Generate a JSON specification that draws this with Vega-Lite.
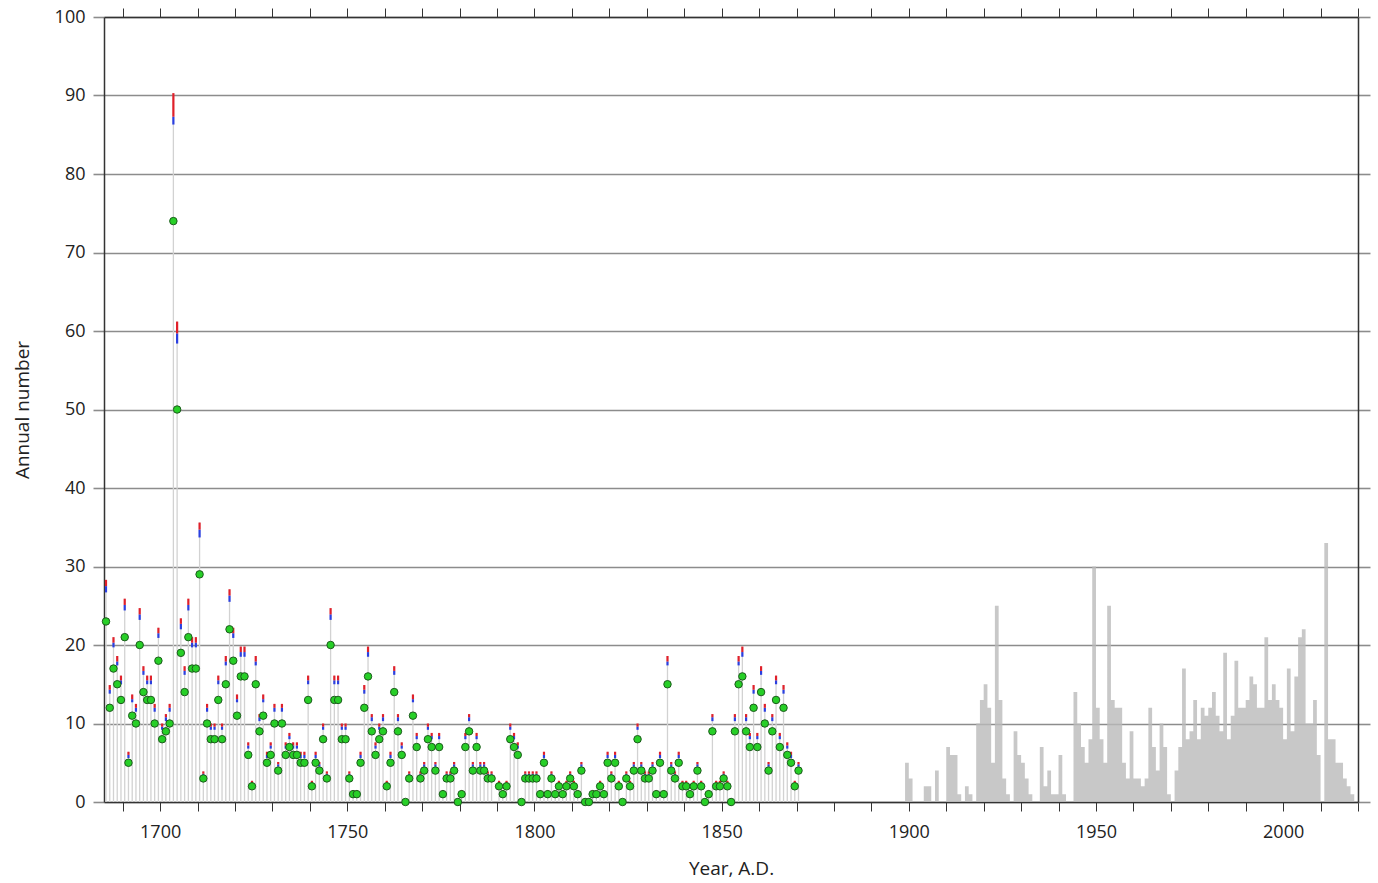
{
  "$schema": "https://vega.github.io/schema/vega-lite/v6.json",
  "width": 1254,
  "height": 785,
  "autosize": {"type": "none"},
  "padding": {"left": 104, "top": 17, "right": 20, "bottom": 81},
  "background": "white",
  "config": {
    "view": {"stroke": null},
    "font": "Open Sans",
    "axis": {
      "labelFont": "Open Sans", "labelFontSize": 18, "labelColor": "#222222",
      "titleFont": "Open Sans", "titleFontSize": 19, "titleFontWeight": "normal", "titleColor": "#222222",
      "domainColor": "#333333", "domainWidth": 1.5, "tickColor": "#333333", "tickWidth": 1
    }
  },
  "datasets": {
    "early": [
      {"year":1685,"v":23},{"year":1686,"v":12},{"year":1687,"v":17},{"year":1688,"v":15},{"year":1689,"v":13},
      {"year":1690,"v":21},{"year":1691,"v":5},{"year":1692,"v":11},{"year":1693,"v":10},{"year":1694,"v":20},
      {"year":1695,"v":14},{"year":1696,"v":13},{"year":1697,"v":13},{"year":1698,"v":10},{"year":1699,"v":18},
      {"year":1700,"v":8},{"year":1701,"v":9},{"year":1702,"v":10},{"year":1703,"v":74},{"year":1704,"v":50},
      {"year":1705,"v":19},{"year":1706,"v":14},{"year":1707,"v":21},{"year":1708,"v":17},{"year":1709,"v":17},
      {"year":1710,"v":29},{"year":1711,"v":3},{"year":1712,"v":10},{"year":1713,"v":8},{"year":1714,"v":8},
      {"year":1715,"v":13},{"year":1716,"v":8},{"year":1717,"v":15},{"year":1718,"v":22},{"year":1719,"v":18},
      {"year":1720,"v":11},{"year":1721,"v":16},{"year":1722,"v":16},{"year":1723,"v":6},{"year":1724,"v":2},
      {"year":1725,"v":15},{"year":1726,"v":9},{"year":1727,"v":11},{"year":1728,"v":5},{"year":1729,"v":6},
      {"year":1730,"v":10},{"year":1731,"v":4},{"year":1732,"v":10},{"year":1733,"v":6},{"year":1734,"v":7},
      {"year":1735,"v":6},{"year":1736,"v":6},{"year":1737,"v":5},{"year":1738,"v":5},{"year":1739,"v":13},
      {"year":1740,"v":2},{"year":1741,"v":5},{"year":1742,"v":4},{"year":1743,"v":8},{"year":1744,"v":3},
      {"year":1745,"v":20},{"year":1746,"v":13},{"year":1747,"v":13},{"year":1748,"v":8},{"year":1749,"v":8},
      {"year":1750,"v":3},{"year":1751,"v":1},{"year":1752,"v":1},{"year":1753,"v":5},{"year":1754,"v":12},
      {"year":1755,"v":16},{"year":1756,"v":9},{"year":1757,"v":6},{"year":1758,"v":8},{"year":1759,"v":9},
      {"year":1760,"v":2},{"year":1761,"v":5},{"year":1762,"v":14},{"year":1763,"v":9},{"year":1764,"v":6},
      {"year":1765,"v":0},{"year":1766,"v":3},{"year":1767,"v":11},{"year":1768,"v":7},{"year":1769,"v":3},
      {"year":1770,"v":4},{"year":1771,"v":8},{"year":1772,"v":7},{"year":1773,"v":4},{"year":1774,"v":7},
      {"year":1775,"v":1},{"year":1776,"v":3},{"year":1777,"v":3},{"year":1778,"v":4},{"year":1779,"v":0},
      {"year":1780,"v":1},{"year":1781,"v":7},{"year":1782,"v":9},{"year":1783,"v":4},{"year":1784,"v":7},
      {"year":1785,"v":4},{"year":1786,"v":4},{"year":1787,"v":3},{"year":1788,"v":3},
      {"year":1790,"v":2},{"year":1791,"v":1},{"year":1792,"v":2},{"year":1793,"v":8},{"year":1794,"v":7},
      {"year":1795,"v":6},{"year":1796,"v":0},{"year":1797,"v":3},{"year":1798,"v":3},{"year":1799,"v":3},
      {"year":1800,"v":3},{"year":1801,"v":1},{"year":1802,"v":5},{"year":1803,"v":1},{"year":1804,"v":3},
      {"year":1805,"v":1},{"year":1806,"v":2},{"year":1807,"v":1},{"year":1808,"v":2},{"year":1809,"v":3},
      {"year":1810,"v":2},{"year":1811,"v":1},{"year":1812,"v":4},{"year":1813,"v":0},{"year":1814,"v":0},
      {"year":1815,"v":1},{"year":1816,"v":1},{"year":1817,"v":2},{"year":1818,"v":1},{"year":1819,"v":5},
      {"year":1820,"v":3},{"year":1821,"v":5},{"year":1822,"v":2},{"year":1823,"v":0},{"year":1824,"v":3},
      {"year":1825,"v":2},{"year":1826,"v":4},{"year":1827,"v":8},{"year":1828,"v":4},{"year":1829,"v":3},
      {"year":1830,"v":3},{"year":1831,"v":4},{"year":1832,"v":1},{"year":1833,"v":5},{"year":1834,"v":1},
      {"year":1835,"v":15},{"year":1836,"v":4},{"year":1837,"v":3},{"year":1838,"v":5},{"year":1839,"v":2},
      {"year":1840,"v":2},{"year":1841,"v":1},{"year":1842,"v":2},{"year":1843,"v":4},{"year":1844,"v":2},
      {"year":1845,"v":0},{"year":1846,"v":1},{"year":1847,"v":9},{"year":1848,"v":2},{"year":1849,"v":2},
      {"year":1850,"v":3},{"year":1851,"v":2},{"year":1852,"v":0},{"year":1853,"v":9},{"year":1854,"v":15},
      {"year":1855,"v":16},{"year":1856,"v":9},{"year":1857,"v":7},{"year":1858,"v":12},{"year":1859,"v":7},
      {"year":1860,"v":14},{"year":1861,"v":10},{"year":1862,"v":4},{"year":1863,"v":9},{"year":1864,"v":13},
      {"year":1865,"v":7},{"year":1866,"v":12},{"year":1867,"v":6},{"year":1868,"v":5},{"year":1869,"v":2},
      {"year":1870,"v":4}
    ],
    "tickmap": [
      {"v":1,"hi":1.5,"mid":1.2,"lo":1.0},{"v":2,"hi":2.7,"mid":2.4,"lo":2.1},{"v":3,"hi":3.9,"mid":3.6,"lo":3.3},
      {"v":4,"hi":5.1,"mid":4.8,"lo":4.5},{"v":5,"hi":6.4,"mid":6.0,"lo":5.6},{"v":6,"hi":7.6,"mid":7.2,"lo":6.8},
      {"v":7,"hi":8.8,"mid":8.4,"lo":8.0},{"v":8,"hi":10.0,"mid":9.6,"lo":9.2},{"v":9,"hi":11.2,"mid":10.8,"lo":10.3},
      {"v":10,"hi":12.5,"mid":12.0,"lo":11.5},{"v":11,"hi":13.7,"mid":13.1,"lo":12.7},{"v":12,"hi":14.9,"mid":14.3,"lo":13.8},
      {"v":13,"hi":16.1,"mid":15.5,"lo":15.0},{"v":14,"hi":17.3,"mid":16.7,"lo":16.2},{"v":15,"hi":18.6,"mid":17.9,"lo":17.4},
      {"v":16,"hi":19.8,"mid":19.1,"lo":18.5},{"v":17,"hi":21.0,"mid":20.3,"lo":19.7},{"v":18,"hi":22.2,"mid":21.5,"lo":20.9},
      {"v":19,"hi":23.4,"mid":22.7,"lo":22.0},{"v":20,"hi":24.7,"mid":23.9,"lo":23.2},{"v":21,"hi":25.9,"mid":25.1,"lo":24.4},
      {"v":22,"hi":27.1,"mid":26.3,"lo":25.5},{"v":23,"hi":28.3,"mid":27.5,"lo":26.7},{"v":29,"hi":35.6,"mid":34.7,"lo":33.7},
      {"v":50,"hi":61.2,"mid":59.7,"lo":58.4},{"v":74,"hi":90.3,"mid":87.3,"lo":86.3}
    ],
    "modern": [
      {"year":1897,"n":0},{"year":1898,"n":0},{"year":1899,"n":5},{"year":1900,"n":3},{"year":1901,"n":0},
      {"year":1902,"n":0},{"year":1903,"n":0},{"year":1904,"n":2},{"year":1905,"n":2},{"year":1906,"n":0},
      {"year":1907,"n":4},{"year":1908,"n":0},{"year":1909,"n":0},{"year":1910,"n":7},{"year":1911,"n":6},
      {"year":1912,"n":6},{"year":1913,"n":1},{"year":1914,"n":0},{"year":1915,"n":2},{"year":1916,"n":1},
      {"year":1917,"n":0},{"year":1918,"n":10},{"year":1919,"n":13},{"year":1920,"n":15},{"year":1921,"n":12},
      {"year":1922,"n":5},{"year":1923,"n":25},{"year":1924,"n":13},{"year":1925,"n":3},{"year":1926,"n":1},
      {"year":1927,"n":0},{"year":1928,"n":9},{"year":1929,"n":6},{"year":1930,"n":5},{"year":1931,"n":3},
      {"year":1932,"n":1},{"year":1933,"n":0},{"year":1934,"n":0},{"year":1935,"n":7},{"year":1936,"n":2},
      {"year":1937,"n":4},{"year":1938,"n":1},{"year":1939,"n":1},{"year":1940,"n":6},{"year":1941,"n":1},
      {"year":1942,"n":0},{"year":1943,"n":0},{"year":1944,"n":14},{"year":1945,"n":10},{"year":1946,"n":7},
      {"year":1947,"n":5},{"year":1948,"n":8},{"year":1949,"n":30},{"year":1950,"n":12},{"year":1951,"n":8},
      {"year":1952,"n":5},{"year":1953,"n":25},{"year":1954,"n":13},{"year":1955,"n":12},{"year":1956,"n":12},
      {"year":1957,"n":5},{"year":1958,"n":3},{"year":1959,"n":9},{"year":1960,"n":3},{"year":1961,"n":3},
      {"year":1962,"n":2},{"year":1963,"n":3},{"year":1964,"n":12},{"year":1965,"n":7},{"year":1966,"n":4},
      {"year":1967,"n":10},{"year":1968,"n":7},{"year":1969,"n":1},{"year":1970,"n":0},{"year":1971,"n":4},
      {"year":1972,"n":7},{"year":1973,"n":17},{"year":1974,"n":8},{"year":1975,"n":9},{"year":1976,"n":13},
      {"year":1977,"n":8},{"year":1978,"n":12},{"year":1979,"n":11},{"year":1980,"n":12},{"year":1981,"n":14},
      {"year":1982,"n":11},{"year":1983,"n":9},{"year":1984,"n":19},{"year":1985,"n":8},{"year":1986,"n":11},
      {"year":1987,"n":18},{"year":1988,"n":12},{"year":1989,"n":12},{"year":1990,"n":13},{"year":1991,"n":16},
      {"year":1992,"n":15},{"year":1993,"n":12},{"year":1994,"n":12},{"year":1995,"n":21},{"year":1996,"n":13},
      {"year":1997,"n":15},{"year":1998,"n":13},{"year":1999,"n":12},{"year":2000,"n":8},{"year":2001,"n":17},
      {"year":2002,"n":9},{"year":2003,"n":16},{"year":2004,"n":21},{"year":2005,"n":22},{"year":2006,"n":10},
      {"year":2007,"n":10},{"year":2008,"n":13},{"year":2009,"n":6},{"year":2010,"n":0},{"year":2011,"n":33},
      {"year":2012,"n":8},{"year":2013,"n":8},{"year":2014,"n":5},{"year":2015,"n":5},{"year":2016,"n":3},
      {"year":2017,"n":2},{"year":2018,"n":1},{"year":2019,"n":0}
    ]
  },
  "layer": [
    {
      "data": {"name": "early"},
      "transform": [{"lookup": "v", "from": {"data": {"name": "tickmap"}, "key": "v", "fields": ["hi", "mid", "lo"]}}],
      "mark": {"type": "rule", "color": "#d2d2d2", "strokeWidth": 1.3, "xOffset": 2},
      "encoding": {
        "x": {
          "field": "year", "type": "quantitative",
          "scale": {"domain": [1685, 2020], "nice": false, "zero": false},
          "axis": {
            "orient": "bottom", "title": "Year, A.D.", "grid": false,
            "values": [1690,1700,1710,1720,1730,1740,1750,1760,1770,1780,1790,1800,1810,1820,1830,1840,1850,1860,1870,1880,1890,1900,1910,1920,1930,1940,1950,1960,1970,1980,1990,2000,2010,2020],
            "labelExpr": "datum.value % 50 === 0 ? datum.value : ''",
            "tickSize": 9, "labelPadding": 12, "titlePadding": 18, "labelFlush": false, "labelOverlap": false
          }
        },
        "y": {
          "field": "hi", "type": "quantitative",
          "scale": {"domain": [0, 100], "nice": false},
          "axis": {
            "orient": "left", "title": "Annual number",
            "values": [0,10,20,30,40,50,60,70,80,90,100],
            "grid": true, "gridColor": "#8c8c8c", "gridWidth": 1.6,
            "tickSize": 11, "tickColor": "#8c8c8c", "tickWidth": 1.6,
            "labelPadding": 8, "titlePadding": 22
          }
        },
        "y2": {"datum": 0}
      }
    },
    {
      "data": {"name": "modern"},
      "mark": {"type": "area", "interpolate": "step-after", "color": "#bababa", "opacity": 0.8},
      "encoding": {
        "x": {"field": "year", "type": "quantitative", "axis": null},
        "y": {"field": "n", "type": "quantitative", "axis": null}
      }
    },
    {
      "data": {"name": "early"},
      "transform": [{"lookup": "v", "from": {"data": {"name": "tickmap"}, "key": "v", "fields": ["hi", "mid", "lo"]}}],
      "mark": {"type": "rule", "color": "#2a3fe0", "strokeWidth": 2.2, "xOffset": 2},
      "encoding": {
        "x": {"field": "year", "type": "quantitative", "axis": null},
        "y": {"field": "lo", "type": "quantitative", "axis": null},
        "y2": {"field": "mid"}
      }
    },
    {
      "data": {"name": "early"},
      "transform": [{"lookup": "v", "from": {"data": {"name": "tickmap"}, "key": "v", "fields": ["hi", "mid", "lo"]}}],
      "mark": {"type": "rule", "color": "#e0202a", "strokeWidth": 2.2, "xOffset": 2},
      "encoding": {
        "x": {"field": "year", "type": "quantitative", "axis": null},
        "y": {"field": "mid", "type": "quantitative", "axis": null},
        "y2": {"field": "hi"}
      }
    },
    {
      "data": {"name": "early"},
      "mark": {"type": "point", "shape": "circle", "filled": false, "fill": "#27cf27", "fillOpacity": 1, "stroke": "#1d5a1d", "strokeWidth": 1, "size": 56, "xOffset": 2},
      "encoding": {
        "x": {
          "field": "year", "type": "quantitative",
          "axis": {
            "orient": "top", "title": null, "labels": false, "grid": false,
            "values": [1690,1700,1710,1720,1730,1740,1750,1760,1770,1780,1790,1800,1810,1820,1830,1840,1850,1860,1870,1880,1890,1900,1910,1920,1930,1940,1950,1960,1970,1980,1990,2000,2010,2020],
            "tickSize": 9
          }
        },
        "y": {
          "field": "v", "type": "quantitative",
          "axis": {
            "orient": "right", "title": null, "labels": false, "grid": false,
            "values": [0,10,20,30,40,50,60,70,80,90,100],
            "tickSize": 12, "tickColor": "#8c8c8c", "tickWidth": 1.6
          }
        }
      }
    }
  ],
  "resolve": {"axis": {"x": "independent", "y": "independent"}}
}
